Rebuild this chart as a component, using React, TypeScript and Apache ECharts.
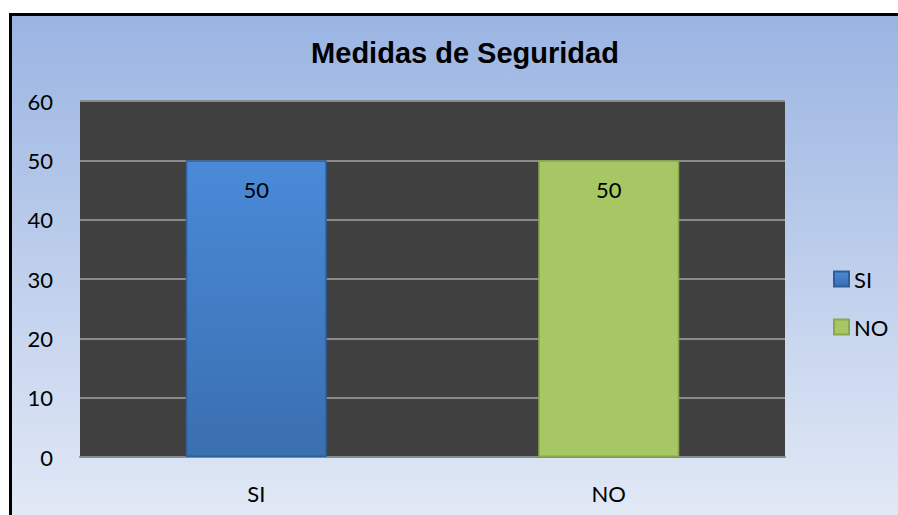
import React, { useEffect, useRef } from "react";
import * as echarts from "echarts";

const categories = ["SI", "NO"];
const siValues = [50, "-"];
const noValues = ["-", 50];
const yTicks = { min: 0, max: 60, interval: 10 };

export default function App() {
  const ref = useRef<HTMLDivElement>(null);
  useEffect(() => {
    const chart = echarts.init(ref.current!, null, { renderer: "svg" });
    const font = "Lato, 'Open Sans', sans-serif";
    const labelSize = 22;
    chart.setOption({
      animation: false,
      title: {
        text: "Medidas de Seguridad",
        left: 460,
        textAlign: "center",
        top: 33,
        textStyle: {
          fontFamily: "'Liberation Sans', Arial, sans-serif",
          fontWeight: "bold",
          fontSize: 29,
          color: "#000",
        },
      },
      legend: {
        orient: "vertical",
        left: 828,
        top: 263,
        itemWidth: 15,
        itemHeight: 15,
        itemGap: 26,
        icon: "rect",
        textStyle: { fontFamily: font, fontSize: labelSize, color: "#000" },
        data: categories,
      },
      grid: {
        left: 80,
        top: 101,
        width: 705,
        height: 356,
        show: true,
        backgroundColor: "#404040",
        borderWidth: 0,
      },
      xAxis: {
        type: "category",
        data: categories,
        axisLine: { show: true, lineStyle: { color: "#8a8a8a", width: 2 } },
        axisTick: { show: false },
        axisLabel: { fontFamily: font, fontSize: labelSize, color: "#000", margin: 25 },
      },
      yAxis: {
        type: "value",
        min: yTicks.min,
        max: yTicks.max,
        interval: yTicks.interval,
        axisLine: { show: false },
        axisTick: { show: false },
        splitLine: { lineStyle: { color: "#8a8a8a", width: 2 } },
        axisLabel: { fontFamily: font, fontSize: labelSize, color: "#000", margin: 27 },
      },
      series: [
        {
          name: "SI",
          type: "bar",
          data: siValues,
          barWidth: "40%",
          barGap: "-100%",
          itemStyle: {
            color: new echarts.graphic.LinearGradient(0, 0, 0, 1, [
              { offset: 0, color: "#4a8ad8" },
              { offset: 1, color: "#3a6fb0" },
            ]),
            borderColor: "#2f5f9a",
            borderWidth: 1.5,
          },
          label: {
            show: true,
            position: "insideTop",
            distance: 18,
            fontFamily: font,
            fontSize: labelSize,
            color: "#000",
          },
        },
        {
          name: "NO",
          type: "bar",
          data: noValues,
          barWidth: "40%",
          barGap: "-100%",
          itemStyle: {
            color: "#a6c764",
            borderColor: "#8aa84c",
            borderWidth: 1.5,
          },
          label: {
            show: true,
            position: "insideTop",
            distance: 18,
            fontFamily: font,
            fontSize: labelSize,
            color: "#000",
          },
        },
      ],
    });
    return () => chart.dispose();
  }, []);
  return (
    <div
      style={{
        position: "fixed",
        left: 0,
        top: 0,
        width: 898,
        height: 515,
        background: "#ffffff",
        overflow: "hidden",
      }}
    >
      <div
        style={{
          position: "absolute",
          left: 9,
          top: 13,
          width: 950,
          height: 600,
          borderLeft: "3px solid #000",
          borderTop: "3px solid #000",
          background: "linear-gradient(to bottom, #9ab4e2 0px, #e3eaf6 510px)",
        }}
      />
      <div
        ref={ref}
        style={{ position: "absolute", left: 0, top: 0, width: 898, height: 515 }}
      />
    </div>
  );
}
